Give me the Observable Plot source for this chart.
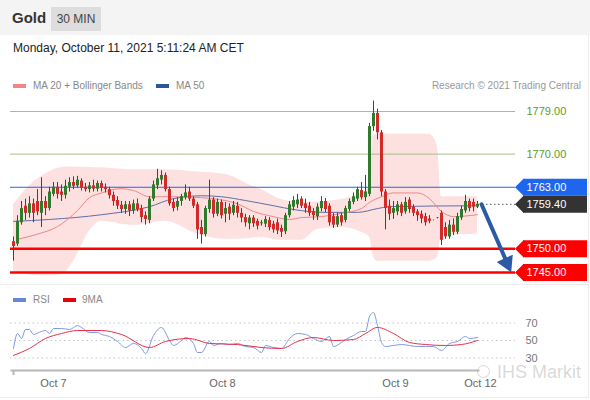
<!DOCTYPE html>
<html><head><meta charset="utf-8">
<script src="https://cdn.jsdelivr.net/npm/d3@7"></script>
<script src="https://cdn.jsdelivr.net/npm/@observablehq/plot@0.6"></script>
<style>
html,body{margin:0;padding:0;background:#fff}
body{width:590px;height:400px;position:relative;overflow:hidden;font-family:"Liberation Sans",Arial,sans-serif;color:#333}
.a{position:absolute;white-space:nowrap}
.sw{position:absolute;height:4px;width:13px}
.lg{position:absolute;font-size:10px;line-height:12px;color:#888;white-space:nowrap}
</style></head><body>
<div class="a" style="left:0;top:0;width:590px;height:35px;background:#f4f4f4"></div>
<div class="a" style="left:12px;top:9px;font-size:15px;font-weight:bold;color:#333;line-height:18px">Gold</div>
<div class="a" style="left:51px;top:7px;width:50px;height:24px;background:#dddddd;font-size:12px;line-height:24px;text-align:center;color:#444">30 MIN</div>
<div class="a" style="left:13px;top:41px;font-size:12px;color:#222;line-height:14px">Monday, October 11, 2021 5:11:24 AM CET</div>
<div class="sw" style="left:13px;top:84px;background:#f28686"></div>
<div class="lg" style="left:33px;top:80px">MA 20 + Bollinger Bands</div>
<div class="sw" style="left:156px;top:84px;background:#2f5597"></div>
<div class="lg" style="left:176px;top:80px">MA 50</div>
<div class="lg" style="right:9px;top:80px;color:#999">Research © 2021 Trading Central</div>
<div id="main" class="a" style="left:0;top:95px"></div>
<div class="a" style="left:0;top:284px;width:589px;height:0;border-top:1px solid #ececec"></div>
<div class="a" style="left:588px;top:35px;width:0;height:363px;border-left:1px solid #ececec"></div>
<div class="a" style="left:0;top:397px;width:589px;height:0;border-top:1px solid #ececec"></div>
<div class="sw" style="left:13px;top:298px;background:#6a86dc"></div>
<div class="lg" style="left:33px;top:294px">RSI</div>
<div class="sw" style="left:63px;top:298px;background:#e8000b"></div>
<div class="lg" style="left:82px;top:294px">9MA</div>
<div id="rsi" class="a" style="left:0;top:284px"></div>
<div class="a" style="left:477px;top:365px;width:11px;height:11px;border:1.5px solid rgba(170,170,170,0.45);border-radius:50%"></div>
<div class="a" style="left:497px;top:364px;font-size:18px;line-height:16px;color:rgba(170,170,170,0.45)">IHS Markit</div>
<script>
// ---- candles (30 min), index 0..116 ----
const candleOpen = [1751.5,1751,1755.5,1759,1757.5,1759.5,1760,1757.5,1760,1758.5,
1761.5,1763,1762,1761.3,1763,1764,1763.3,1764.3,1763,1762.5,
1763.3,1762.6,1763.8,1763,1762.5,1761.3,1760.2,1759.2,1758.3,1759.3,
1758,1759.5,1758.5,1757,1756,1760.5,1763.3,1764.5,1765.5,1762.5,
1759.8,1758.8,1760,1760.8,1762,1760.5,1759.3,1754.5,1753,1758.3,
1760.3,1757.3,1759.8,1757.3,1758.8,1757.5,1759,1757.5,1756.6,1755.3,
1756.5,1755.8,1755.3,1755.2,1756,1755.2,1755.5,1754.3,1753.6,1757,
1758.8,1759.3,1760.5,1759.5,1759,1757.8,1756.8,1758.5,1760,1759,
1756.8,1755,1757,1756,1758.3,1759.8,1760.5,1762.3,1760.8,1761.5,
1775.8,1778.6,1774.5,1762,1759,1757.5,1757.8,1759.3,1757.8,1760.3,
1758.8,1757.8,1757.3,1756.8,1756.3,1756,1756.5,1757.5,1754.5,1752.5,
1755,1753.5,1756.5,1758,1760,1759.8,1758.8];
const candleHigh = [1752.5,1757,1760,1760.5,1761,1760.5,1762.5,1765,1761,1763,
1764,1764,1763.5,1764.5,1765,1765.2,1765.3,1764.8,1763.8,1764,
1764.5,1764.3,1764.3,1763.7,1763,1762,1761,1760,1760,1760,
1760.3,1760.5,1759.2,1757.8,1761,1764.3,1766.8,1766.5,1766,1763,
1760.5,1760.8,1761.5,1763.5,1763,1761,1759.8,1756,1759,1764.5,
1760.8,1760.5,1760.3,1759.8,1759.5,1760,1759.8,1758.5,1757.3,1757,
1757,1756.3,1756,1756.8,1756.6,1755.8,1756.3,1755,1757.5,1760,
1761,1761.5,1761,1760.5,1759.8,1758.5,1759.5,1761,1760.6,1759.5,
1757.5,1757.5,1757.5,1759,1760.5,1761.8,1763,1764,1765.5,1776.5,
1781.2,1779.5,1775,1762.5,1760.3,1760,1760,1759.8,1760.8,1760.8,
1759.3,1758.3,1758,1757.5,1757,1756.1,1756.6,1758,1755.5,1756,
1756.3,1757.5,1759,1761.3,1760.5,1760.5,1760];
const candleLow = [1747.4,1750.5,1755,1756,1756.5,1755.5,1757,1754.5,1757,1758,
1761,1760.5,1760,1760.5,1762,1762.5,1762.8,1762.2,1762,1761.8,
1762,1762,1762,1761.8,1760.5,1759,1758.3,1757.5,1757.3,1756.8,
1757.3,1757.8,1755.5,1755,1755.3,1760,1762.5,1763.5,1762,1759,
1757.8,1758,1759,1760.3,1760,1758.5,1752,1751,1752.5,1757.5,
1756.5,1756.8,1756.3,1755.5,1756,1757,1756.5,1755.5,1754.6,1754,
1754.5,1754,1754.8,1754.5,1753.8,1753.3,1753,1752.4,1753,1756.5,
1758,1758.5,1758.5,1757.5,1756.8,1756,1756,1757.8,1757.6,1754.8,
1754.3,1754.5,1754.8,1755.5,1757.8,1759.3,1760,1760.3,1760,1761,
1774.8,1773,1761,1754,1756,1756.2,1757,1756.8,1757.3,1757.5,
1756.8,1755.8,1755.3,1754.8,1755.3,1755.9,1756.3,1750.7,1752,1752,
1752.8,1753,1756,1757.5,1757.8,1757.8,1758.5];
const candleClose = [1750.5,1755.8,1758.5,1757.5,1759.5,1757.5,1757.8,1760,1758.5,1762,
1763,1761.5,1761.3,1763.2,1764,1763.2,1764.5,1762.8,1762.5,1763.3,
1762.6,1763.8,1762.8,1762.5,1761.2,1760,1759,1758.3,1759.3,1758,
1759.5,1758.3,1756.6,1756.2,1760.5,1763.5,1764.8,1765.5,1762.5,1759.5,
1758.5,1760,1761,1761.8,1760.5,1759,1754,1753,1758.5,1760.3,
1757.3,1759.8,1757,1758.5,1757.3,1759.2,1757.5,1756.5,1755.5,1756.5,
1755.3,1754.8,1755.5,1756.2,1754.5,1754,1753.8,1753.5,1757,1759.3,
1760.2,1760.3,1759,1758.5,1757.5,1757,1758.8,1760,1758.3,1755.5,
1755,1756.8,1755.5,1758.5,1760,1761,1762.5,1760.8,1762,1775.8,
1778.6,1774.5,1762,1758.5,1757.3,1758.5,1759.3,1757.5,1759.8,1758.3,
1757.5,1757,1756.3,1755.5,1755.8,1756,1756.4,1751.8,1752.5,1755,
1753.5,1756.8,1758.3,1760,1758.5,1758.8,1759.4];

// ---- moving averages & Bollinger bands (sampled at candle index) ----
const ma20Idx = [1,6,11,16,19,22,27,30,34,40,47,56,60,65,69,72,77,82,87,89,92,95,101,104,107,110,116];
const ma20Val = [1752.0,1753.1,1754.7,1758.1,1760.8,1761.8,1762.7,1762.3,1761.0,1761.0,1760.8,1759.5,1757.9,1756.8,1756.2,1756.6,1756.8,1757.5,1758.5,1759.8,1761.0,1761.8,1761.8,1760.6,1757.9,1756.8,1757.2];
const ma50Idx = [0,9,22,34,40,47,52,58,65,70,78,86,91,94,116];
const ma50Val = [1755.8,1756.2,1757.2,1758.9,1760.6,1761.2,1761.0,1760.2,1759.1,1758.3,1757.7,1757.7,1758.5,1758.9,1759.1];
const bandIdx = [0,3,8,12,15,19,22,30,38,46,53,59,62,67,72,76,82,87,89,90,91,104,105,106,107,116];
const bandUpper = [1759.3,1762.5,1765.8,1767.2,1767.3,1767.2,1767.1,1766.7,1766.7,1766.2,1765.7,1763.5,1762.5,1760.4,1759.8,1759.9,1760.4,1761.8,1763.0,1774.0,1774.2,1774.2,1773.5,1771.5,1761.0,1761.0];
const bandLower = [1745.3,1744.6,1744.3,1744.5,1747.4,1753.7,1755.8,1754.9,1755.8,1753.1,1752.0,1752.2,1752.4,1751.8,1751.8,1754.1,1754.5,1753.5,1752.5,1748.2,1747.4,1747.4,1747.6,1748.2,1752.8,1753.1];

// ---- key levels ----
const resistanceLevels = [1779, 1770];
const pivotLevel = [1763];
const lastPrice = [1759.4];
const supportLevels = [1750, 1745];
const boxLevels = [1763, 1759.4, 1750, 1745];
const boxColors = ["#1f66ee", "#333333", "#ff0000", "#ff0000"];
const arrowFrom = [117, 1759.4];
const arrowTo = [124.25, 1745.4];

// ---- RSI panel ----
const rsiIdx = [0,1,2,3,4,5,7,8,9,10,12,14,16,17,19,21,22,24,26,28,30,32,33,35,37,39,40,42,43,45,46,47,49,50,52,54,56,58,60,62,63,65,67,69,71,73,75,77,79,80,82,83,85,87,88,89,90,91,92,93,95,97,99,101,103,105,107,109,111,113,114,116];
const rsiVal = [40.9,58,52.3,62.6,62.6,56.9,60.3,61.4,58,63.7,63.7,62.6,67.1,64.9,59.1,59.1,56.9,54.6,48.9,42,46.6,40.9,35.1,55.7,64.9,50,44.3,50,53.4,46.6,36.3,36.3,48.9,44.3,46.6,45.4,46.6,43.1,42,36.3,44.3,42,40.9,52.3,58,56.9,52.3,48.9,54.6,43.1,47.7,51.1,55.7,60.3,60.3,77.4,82,67.1,47.7,43.1,44.3,45.4,44.3,43.1,43.1,43.1,38.6,46.6,48.9,54.6,52.3,53.4];
const ma9Idx = [0,4,8,12,16,22,27,34,38,44,49,56,62,67,71,75,80,85,88,91,95,99,103,108,112,116];
const ma9Val = [32.9,40.9,52.3,58,61.4,61.4,56.9,42,48.9,52.3,46.6,45.4,42,40.9,48.9,53.4,50,51.1,58,64.9,58,47.7,45.4,44.3,45.4,50];
const rsiLevels = [30, 50, 70];
const dateTickIdx = [10, 52.25, 95.5, 116.75];
const dateTickLabels = ["Oct 7", "Oct 8", "Oct 9", "Oct 12"];

// ---- build tables ----
const candles = candleOpen.map((o, i) => ({i, o, h: candleHigh[i], l: candleLow[i], c: candleClose[i]}));
const zip = (idx, val) => idx.slice(0, Math.min(idx.length, val.length)).map((i, k) => ({i, v: val[k]}));
const ma20 = zip(ma20Idx, ma20Val);
const ma50 = zip(ma50Idx, ma50Val);
const band = bandIdx.map((i, k) => ({i, hi: bandUpper[k], lo: bandLower[k]}));
const boxes = boxLevels.map((v, k) => ({v, c: boxColors[k], t: v.toFixed(2)}));
const rsi = zip(rsiIdx, rsiVal);
const ma9 = zip(ma9Idx, ma9Val);
const tickLabel = new Map(dateTickIdx.map((d, k) => [d, dateTickLabels[k]]));
const arrowRow = [{x1: arrowFrom[0], y1: arrowFrom[1], x2: arrowTo[0], y2: arrowTo[1]}];

const font = "'Liberation Sans', Arial, sans-serif";
const svgStyle = {background: "transparent", maxWidth: "none", overflow: "visible", fontFamily: font};
const xScale = {domain: [0, 117], range: [13, 481], axis: null, label: null};

const main = Plot.plot({
  width: 590, height: 190,
  marginTop: 0, marginBottom: 0, marginLeft: 0, marginRight: 0,
  x: xScale,
  y: {domain: [1745, 1779], range: [177, 16], axis: null},
  color: {type: "identity"},
  style: svgStyle,
  marks: [
    Plot.areaY(band, {x: "i", y1: "lo", y2: "hi", fill: "#fde1e1", curve: "monotone-x"}),
    Plot.ruleY(resistanceLevels, {stroke: "#a7be83", strokeWidth: 1, insetLeft: 10, insetRight: 75}),
    Plot.ruleY(pivotLevel, {stroke: "#2a62e8", strokeWidth: 1, insetLeft: 10, insetRight: 75}),
    Plot.lineY(ma50, {x: "i", y: "v", stroke: "#5d6fa6", strokeWidth: 1, curve: "monotone-x"}),
    Plot.lineY(ma20, {x: "i", y: "v", stroke: "#ef8585", strokeWidth: 1, curve: "monotone-x"}),
    Plot.ruleX(candles, {x: "i", y1: "l", y2: "h", stroke: "#444", strokeWidth: 1}),
    Plot.ruleX(candles, {x: "i", y1: "o", y2: "c", stroke: d => d.c >= d.o ? "#2f7a2c" : "#d22a2a", strokeWidth: 3}),
    Plot.ruleY(supportLevels, {stroke: "#ff0000", strokeWidth: 2.5, insetLeft: 10, insetRight: 75}),
    Plot.ruleY(lastPrice, {stroke: "#555", strokeWidth: 1, strokeDasharray: "1.5,2.5", insetLeft: 482, insetRight: 75}),
    Plot.arrow(arrowRow, {x1: "x1", y1: "y1", x2: "x2", y2: "y2",
      stroke: "#2b5aa6", strokeWidth: 4, headLength: 0, insetEnd: 9}),
    Plot.dot(arrowRow, {x: "x2", y: "y2", symbol: "triangle", r: 5.6, rotate: 155, dx: -3.6, dy: -7.6, fill: "#2b5aa6", stroke: "#2b5aa6", strokeWidth: 1.5}),
    Plot.text(resistanceLevels, {y: d => d, text: d => d.toFixed(2), frameAnchor: "left", dx: 526, textAnchor: "start", fill: "#5d9a25", fontSize: 11}),
    Plot.ruleY(boxes, {y: "v", stroke: "c", strokeWidth: 17, insetLeft: 523, insetRight: 3}),
    Plot.dot(boxes, {y: "v", frameAnchor: "left", dx: 523, symbol: "diamond2", r: 7.66, fill: "c", stroke: null}),
    Plot.text(boxes, {y: "v", text: "t", frameAnchor: "left", dx: 526, textAnchor: "start", fill: "white", fontSize: 11})
  ]
});
document.getElementById("main").append(main);

const rsiPlot = Plot.plot({
  width: 590, height: 114,
  marginTop: 0, marginBottom: 28, marginLeft: 0, marginRight: 0,
  x: xScale,
  y: {domain: [30, 70], range: [73.5, 38.5], axis: null},
  style: svgStyle,
  marks: [
    Plot.ruleY(rsiLevels, {stroke: "#c4c4c4", strokeDasharray: "1.5,3", insetLeft: 10, insetRight: 75}),
    Plot.text(rsiLevels, {y: d => d, text: d => String(d), frameAnchor: "left", dx: 525, textAnchor: "start", fill: "#777", fontSize: 11}),
    Plot.lineY(rsi, {x: "i", y: "v", stroke: "#7f98df", strokeWidth: 1, curve: "monotone-x"}),
    Plot.lineY(ma9, {x: "i", y: "v", stroke: "#e2314c", strokeWidth: 1, curve: "monotone-x"}),
    Plot.frame({anchor: "bottom", stroke: "#b8b8b8", strokeWidth: 2, insetLeft: 11, insetRight: 112}),
    Plot.axisX([0], {tickSize: 5, tickFormat: () => "", color: "#b8b8b8", strokeWidth: 2, label: null}),
    Plot.axisX(dateTickIdx, {tickSize: 0, tickPadding: 9, tickFormat: d => tickLabel.get(d), color: "#666", fontSize: 11, label: null})
  ]
});
document.getElementById("rsi").append(rsiPlot);
</script>
</body></html>
